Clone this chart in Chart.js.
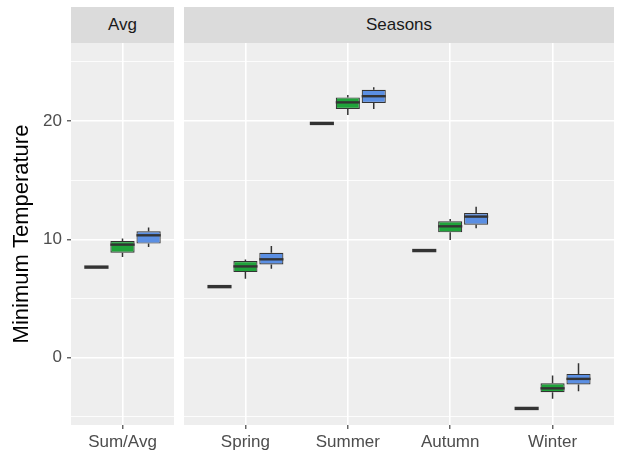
<!DOCTYPE html>
<html>
<head>
<meta charset="utf-8">
<script src="https://cdn.jsdelivr.net/npm/chart.js@4.4.1/dist/chart.umd.min.js"></script>
<style>
  html, body { margin: 0; padding: 0; background: #fff; }
  #wrap { position: relative; width: 617px; height: 458px; overflow: hidden;
          font-family: "Liberation Sans", Arial, sans-serif; }
  .strip { position: absolute; top: 7px; height: 36px; background: #DBDBDB; color: #1A1A1A;
           font-size: 17px; line-height: 36px; text-align: center; }
  canvas { position: absolute; }
</style>
</head>
<body>
<div id="wrap">
  <div class="strip" style="left:71px;width:103px">Avg</div>
  <div class="strip" style="left:184px;width:430px">Seasons</div>
  <canvas id="avgPanel" width="174" height="415" style="left:0;top:43px"></canvas>
  <canvas id="seasonPanel" width="433" height="415" style="left:184px;top:43px"></canvas>
</div>
<script>
// Categories of the two facets
const avgCategories = ['Sum/Avg'];
const seasonCategories = ['Spring', 'Summer', 'Autumn', 'Winter'];

// y axis ticks (labels only on the major ones)
const yTickValues = [-5, 0, 5, 10, 15, 20, 25];
const yTickLabels = ['', '0', '', '10', '', '20', ''];

// Five-number summaries per category: [lower whisker, Q1, median, Q3, upper whisker]
const baseAvg = [[7.65, 7.65, 7.65, 7.65, 7.65]];
const baseSeasons = [
  [6.0, 6.0, 6.0, 6.0, 6.0],
  [19.8, 19.8, 19.8, 19.8, 19.8],
  [9.05, 9.05, 9.05, 9.05, 9.05],
  [-4.3, -4.3, -4.3, -4.3, -4.3]
];
const greenAvg = [[8.5, 8.87, 9.55, 9.86, 10.08]];
const greenSeasons = [
  [6.67, 7.23, 7.71, 8.16, 8.3],
  [20.52, 21.02, 21.58, 22.0, 22.2],
  [9.95, 10.59, 11.1, 11.52, 11.72],
  [-3.49, -2.93, -2.6, -2.17, -1.52]
];
const blueAvg = [[9.35, 9.64, 10.34, 10.68, 10.99]];
const blueSeasons = [
  [7.52, 7.88, 8.31, 8.87, 9.43],
  [21.02, 21.53, 22.1, 22.65, 22.85],
  [10.93, 11.24, 11.92, 12.23, 12.76],
  [-2.85, -2.28, -1.8, -1.38, -0.48]
];

const Y_MIN = -5.7, Y_MAX = 26.6;
const PANEL_BG = '#EEEEEE';
const INK = '#333333';
const FONT = "'Liberation Sans', Arial, sans-serif";
Chart.defaults.font.family = FONT;

// Panel background plus whiskers and median lines for every box
const boxPlot = {
  id: 'boxPlot',
  beforeDraw(chart) {
    const { ctx, chartArea: a } = chart;
    ctx.save();
    ctx.fillStyle = PANEL_BG;
    ctx.fillRect(a.left, a.top, a.width, a.height);
    ctx.restore();
  },
  afterDatasetsDraw(chart) {
    const { ctx } = chart;
    const y = chart.scales.y;
    chart.data.datasets.forEach((ds, di) => {
      const meta = chart.getDatasetMeta(di);
      meta.data.forEach((bar, i) => {
        const [lo, q1, med, q3, hi] = ds.stats[i];
        const half = bar.width / 2;
        ctx.save();
        ctx.strokeStyle = INK;
        ctx.lineWidth = 1.5;
        ctx.beginPath();
        ctx.moveTo(bar.x, y.getPixelForValue(q3));
        ctx.lineTo(bar.x, y.getPixelForValue(hi));
        ctx.moveTo(bar.x, y.getPixelForValue(q1));
        ctx.lineTo(bar.x, y.getPixelForValue(lo));
        ctx.stroke();
        const ym = y.getPixelForValue(med);
        ctx.lineWidth = ds.medianWidth;
        ctx.beginPath();
        ctx.moveTo(bar.x - half, ym);
        ctx.lineTo(bar.x + half, ym);
        ctx.stroke();
        ctx.restore();
      });
    });
  }
};

function boxDatasets(series, useX) {
  return series.map(s => ({
    data: s.stats.map((v, i) => useX ? { x: i + 1, y: [v[1], v[3]] } : [v[1], v[3]]),
    stats: s.stats,
    medianWidth: s.medianWidth,
    backgroundColor: s.fill,
    borderColor: INK,
    borderWidth: 1.2,
    borderSkipped: false,
    categoryPercentage: 0.76,
    barPercentage: 0.93
  }));
}

const isMajor = v => v % 10 === 0;

function yScale(showLabels) {
  return {
    type: 'linear',
    position: 'left',
    min: Y_MIN,
    max: Y_MAX,
    afterBuildTicks: s => { s.ticks = yTickValues.map(v => ({ value: v })); },
    afterFit: s => {
      s.width = showLabels ? 71 : 0;
      s.paddingTop = 0; s.paddingBottom = 0;
    },
    border: { display: false },
    grid: {
      color: '#FFFFFF',
      lineWidth: c => (c.tick && isMajor(c.tick.value)) ? 1.6 : 0.8,
      drawTicks: showLabels,
      tickLength: 4,
      tickWidth: 1.1,
      tickColor: c => (c.tick && isMajor(c.tick.value)) ? INK : 'rgba(0,0,0,0)'
    },
    ticks: {
      display: showLabels,
      padding: 5,
      color: '#4D4D4D',
      font: { size: 17, family: FONT },
      callback: v => yTickLabels[yTickValues.indexOf(v)] ?? ''
    },
    title: {
      display: showLabels,
      text: 'Minimum Temperature',
      color: '#000000',
      font: { size: 22, family: FONT },
      padding: { top: 9, bottom: 0 }
    }
  };
}

const xCommon = {
  border: { display: false },
  grid: { color: '#FFFFFF', lineWidth: 1.6, offset: false, tickLength: 4, tickWidth: 1.1, tickColor: INK },
  ticks: { padding: 3, color: '#4D4D4D', font: { size: 17, family: FONT }, maxRotation: 0, autoSkip: false },
  afterFit: s => { s.height = 33; s.paddingLeft = 0; s.paddingRight = 0; }
};

const baseOptions = {
  responsive: false,
  animation: false,
  devicePixelRatio: 1,
  events: [],
  plugins: { legend: { display: false }, tooltip: { enabled: false }, title: { display: false } }
};

new Chart(document.getElementById('avgPanel'), {
  type: 'bar',
  data: {
    labels: avgCategories,
    datasets: boxDatasets([
      { stats: baseAvg, fill: INK, medianWidth: 3.4 },
      { stats: greenAvg, fill: '#1FA33A', medianWidth: 2.4 },
      { stats: blueAvg, fill: '#5B8FE3', medianWidth: 2.4 }
    ], false)
  },
  options: Object.assign({}, baseOptions, {
    layout: { padding: 0 },
    scales: {
      x: Object.assign({}, xCommon, { type: 'category', offset: true }),
      y: yScale(true)
    }
  }),
  plugins: [boxPlot]
});

new Chart(document.getElementById('seasonPanel'), {
  type: 'bar',
  data: {
    datasets: boxDatasets([
      { stats: baseSeasons, fill: INK, medianWidth: 3.4 },
      { stats: greenSeasons, fill: '#1FA33A', medianWidth: 2.4 },
      { stats: blueSeasons, fill: '#5B8FE3', medianWidth: 2.4 }
    ], true)
  },
  options: Object.assign({}, baseOptions, {
    layout: { padding: { left: 0, right: 3, top: 0, bottom: 0 } },
    scales: {
      x: Object.assign({}, xCommon, {
        type: 'linear',
        min: 0.4,
        max: 4.6,
        offset: false,
        afterBuildTicks: s => { s.ticks = seasonCategories.map((c, i) => ({ value: i + 1 })); },
        ticks: Object.assign({}, xCommon.ticks, { callback: v => seasonCategories[v - 1] ?? '' })
      }),
      y: yScale(false)
    }
  }),
  plugins: [boxPlot]
});
</script>
</body>
</html>
